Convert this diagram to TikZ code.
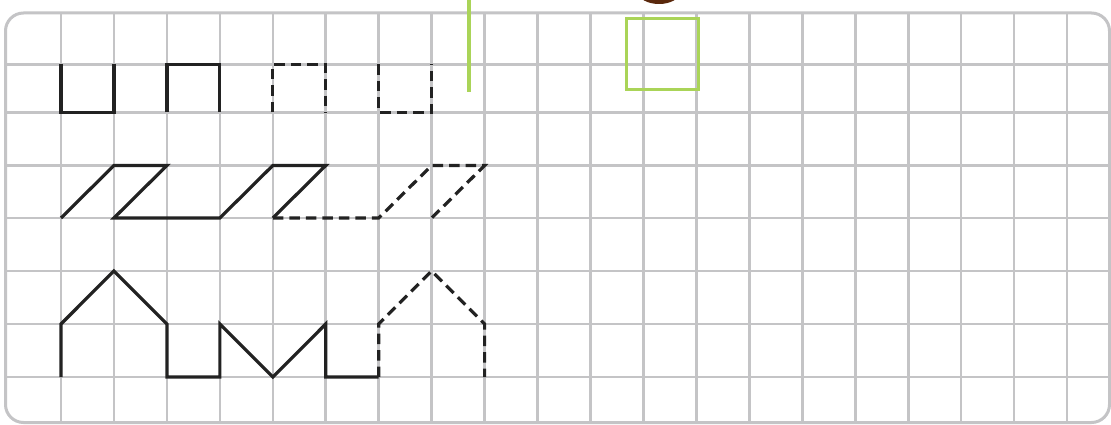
\documentclass[tikz,border=0pt]{standalone}
\usetikzlibrary{calc}
\definecolor{gridgray}{RGB}{196,196,198}
\definecolor{ink}{RGB}{34,34,34}
\definecolor{lime}{RGB}{170,212,88}
\definecolor{brownish}{RGB}{90,40,12}
\tikzset{
  gridline/.style={draw=gridgray, line width=2.6pt},
  frame/.style={draw=gridgray, line width=3pt, rounded corners=18pt},
  solidpath/.style={draw=ink, line width=3.2pt, line join=miter},
  dashpath/.style={draw=ink, line width=3.2pt, dash pattern=on 10.5pt off 6pt, line join=miter},
  greenmark/.style={draw=lime, line width=3.4pt}
}
\begin{document}
\begin{tikzpicture}[x=1pt,y=-1pt]
\useasboundingbox (0,0) rectangle (1111,425);
\fill[white] (0,0) rectangle (1111,425);
% brown shape at top
\fill[brownish] (659,-8) ellipse [x radius=21pt, y radius=12pt];
% grid
\begin{scope}
\clip[rounded corners=18pt] (5.5,13) rectangle (1109.5,422.5);
\foreach \k in {0,...,19} {
  \draw[gridline] ({61+52.95*\k},0) -- ({61+52.95*\k},425);
}
\foreach \yy in {64.5,112.5,165.5,218,271,324,377} {
  \draw[gridline] (0,\yy) -- (1111,\yy);
}
\end{scope}
\draw[frame] (5.5,13) rectangle (1109.5,422.5);
% column / row coordinates
\foreach \k in {0,...,8} {
  \foreach \r/\yy in {0/64.5,1/112.5,2/165.5,3/218,4/271,5/324,6/377} {
    \coordinate (p\k-\r) at ({61+52.95*\k},\yy);
  }
}
% row 1
\draw[solidpath] (p0-0) -- (p0-1) -- (p1-1) -- (p1-0);
\draw[solidpath] (p2-1) -- (p2-0) -- (p3-0) -- (p3-1);
\draw[dashpath] (p4-1) -- (p4-0) -- (p5-0) -- (p5-1);
\draw[dashpath] (p6-0) -- (p6-1) -- (p7-1) -- (p7-0);
% row 2
\draw[solidpath] (p0-3) -- (p1-2) -- (p2-2) -- (p1-3) -- (p3-3) -- (p4-2) -- (p5-2) -- (p4-3);
\draw[dashpath] (p4-3) -- (p6-3) -- (p7-2) -- (p8-2) -- (p7-3);
% row 3
\draw[solidpath] (p0-6) -- (p0-5) -- (p1-4) -- (p2-5) -- (p2-6) -- (p3-6) -- (p3-5) -- (p4-6) -- (p5-5) -- (p5-6) -- (p6-6);
\draw[dashpath] (p6-6) -- (p6-5) -- (p7-4) -- (p8-5) -- (p8-6);
% green marks
\coordinate (gtop) at (469,0);
\coordinate (gbot) at (469,92);
\draw[greenmark] (gtop) -- (gbot);
\draw[greenmark] (626.5,18.5) rectangle (698.5,89.5);
\end{tikzpicture}
\end{document}
